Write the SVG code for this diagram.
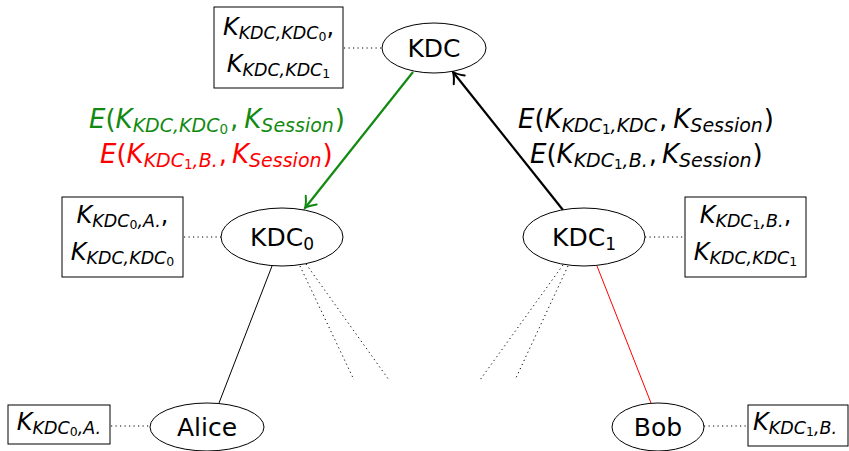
<svg xmlns="http://www.w3.org/2000/svg" width="849" height="451" viewBox="0 0 849 451">
<style>
text { font-family: "DejaVu Sans", sans-serif; fill: #000; }
.i { font-style: italic; }
.lab { font-size: 26px; }
.lab .s { font-size: 19px; }
.lab .ss { font-size: 13.5px; }
.bx { font-size: 24px; }
.bx .s { font-size: 17.5px; }
.bx .ss { font-size: 12.5px; }
.nd { font-size: 25px; }
.nd .ss { font-size: 17px; }
.node ellipse { fill: #fff; stroke: #000; stroke-width: 1; }
.box rect { fill: #fff; stroke: #000; stroke-width: 1; }
.dot { stroke: #000; stroke-width: 1; stroke-dasharray: 1.2 3.3; fill: none; }
</style>
<defs>
<marker id="ahG" markerUnits="userSpaceOnUse" markerWidth="20" markerHeight="20" refX="0" refY="0" viewBox="-12 -10 14 20" orient="auto" overflow="visible">
<path d="M-10,-7 Q-4,-1.5 0,0 Q-4,1.5 -10,7" fill="none" stroke="#128a12" stroke-width="2" stroke-linecap="round"/>
</marker>
<marker id="ahK" markerUnits="userSpaceOnUse" markerWidth="20" markerHeight="20" refX="0" refY="0" viewBox="-12 -10 14 20" orient="auto" overflow="visible">
<path d="M-10,-7 Q-4,-1.5 0,0 Q-4,1.5 -10,7" fill="none" stroke="#000" stroke-width="2" stroke-linecap="round"/>
</marker>
</defs>
<g id="connectors">
<line x1="413" y1="72" x2="305" y2="208" stroke="#128a12" stroke-width="2.2" marker-end="url(#ahG)"/>
<line x1="563" y1="210" x2="453" y2="72" stroke="#000" stroke-width="2.2" marker-end="url(#ahK)"/>
<line x1="272" y1="266" x2="219" y2="403" stroke="#000" stroke-width="1"/>
<line x1="597" y1="266" x2="651" y2="403" stroke="#ff0000" stroke-width="1"/>
<line class="dot" x1="300" y1="266" x2="354" y2="380"/>
<line class="dot" x1="306" y1="264" x2="389" y2="380"/>
<line class="dot" x1="563" y1="265" x2="480" y2="380"/>
<line class="dot" x1="568" y1="266" x2="515" y2="380"/>
<line class="dot" x1="344" y1="48" x2="382" y2="48"/>
<line class="dot" x1="184" y1="237" x2="221" y2="237"/>
<line class="dot" x1="645" y1="237" x2="685" y2="237"/>
<line class="dot" x1="111" y1="426" x2="150" y2="426"/>
<line class="dot" x1="704" y1="426" x2="748" y2="426"/>
</g>
<g id="label-green">
<text x="89" y="128" class="lab" style="fill:#128a12"><tspan class="i">E</tspan>(<tspan class="i">K</tspan><tspan class="i s" dy="4">KDC,KDC</tspan><tspan class="ss" dy="2">0</tspan><tspan dy="-6" dx="2">,</tspan><tspan class="i" dx="6">K</tspan><tspan class="i s" dy="4">Session</tspan><tspan dy="-4" dx="1">)</tspan></text>
</g>
<g id="label-red">
<text x="100" y="163" class="lab" style="fill:#ff0000"><tspan class="i">E</tspan>(<tspan class="i">K</tspan><tspan class="i s" dy="4">KDC</tspan><tspan class="ss" dy="2">1</tspan><tspan class="i s" dy="-2">,B.</tspan><tspan dy="-4" dx="1">,</tspan><tspan class="i" dx="5">K</tspan><tspan class="i s" dy="4">Session</tspan><tspan dy="-4" dx="1">)</tspan></text>
</g>
<g id="label-right">
<text x="518" y="128" class="lab"><tspan class="i">E</tspan>(<tspan class="i">K</tspan><tspan class="i s" dy="4">KDC</tspan><tspan class="ss" dy="2">1</tspan><tspan class="i s" dy="-2">,KDC</tspan><tspan dy="-4" dx="2">,</tspan><tspan class="i" dx="6">K</tspan><tspan class="i s" dy="4">Session</tspan><tspan dy="-4" dx="1">)</tspan></text>
<text x="530" y="163" class="lab"><tspan class="i">E</tspan>(<tspan class="i">K</tspan><tspan class="i s" dy="4">KDC</tspan><tspan class="ss" dy="2">1</tspan><tspan class="i s" dy="-2">,B.</tspan><tspan dy="-4" dx="1">,</tspan><tspan class="i" dx="5">K</tspan><tspan class="i s" dy="4">Session</tspan><tspan dy="-4" dx="1">)</tspan></text>
</g>
<g id="box-kdc" class="box">
<rect x="214" y="7" width="129" height="81"/>
<text x="278.5" y="35" class="bx" text-anchor="middle"><tspan class="i">K</tspan><tspan class="i s" dy="4">KDC,KDC</tspan><tspan class="ss" dy="2">0</tspan><tspan dy="-6">,</tspan></text>
<text x="278.5" y="72" class="bx" text-anchor="middle"><tspan class="i">K</tspan><tspan class="i s" dy="4">KDC,KDC</tspan><tspan class="ss" dy="2">1</tspan></text>
</g>
<g id="box-kdc0" class="box">
<rect x="62" y="197" width="121" height="80"/>
<text x="122.5" y="223" class="bx" text-anchor="middle"><tspan class="i">K</tspan><tspan class="i s" dy="4">KDC</tspan><tspan class="ss" dy="2">0</tspan><tspan class="i s" dy="-2">,A.</tspan><tspan dy="-4">,</tspan></text>
<text x="122.5" y="260" class="bx" text-anchor="middle"><tspan class="i">K</tspan><tspan class="i s" dy="4">KDC,KDC</tspan><tspan class="ss" dy="2">0</tspan></text>
</g>
<g id="box-kdc1" class="box">
<rect x="685" y="197" width="121" height="80"/>
<text x="745.5" y="223" class="bx" text-anchor="middle"><tspan class="i">K</tspan><tspan class="i s" dy="4">KDC</tspan><tspan class="ss" dy="2">1</tspan><tspan class="i s" dy="-2">,B.</tspan><tspan dy="-4">,</tspan></text>
<text x="745.5" y="260" class="bx" text-anchor="middle"><tspan class="i">K</tspan><tspan class="i s" dy="4">KDC,KDC</tspan><tspan class="ss" dy="2">1</tspan></text>
</g>
<g id="box-alice" class="box">
<rect x="8" y="405" width="102" height="39"/>
<text x="59" y="430" class="bx" text-anchor="middle"><tspan class="i">K</tspan><tspan class="i s" dy="4">KDC</tspan><tspan class="ss" dy="2">0</tspan><tspan class="i s" dy="-2">,A.</tspan></text>
</g>
<g id="box-bob" class="box">
<rect x="748" y="405" width="100" height="41"/>
<text x="753" y="430" class="bx"><tspan class="i">K</tspan><tspan class="i s" dy="4">KDC</tspan><tspan class="ss" dy="2">1</tspan><tspan class="i s" dy="-2">,B.</tspan></text>
</g>
<g id="node-kdc" class="node">
<ellipse cx="434" cy="48" rx="52" ry="25"/>
<text x="434" y="57" class="nd" text-anchor="middle">KDC</text>
</g>
<g id="node-kdc0" class="node">
<ellipse cx="282" cy="237" rx="61" ry="29"/>
<text x="282" y="246" class="nd" text-anchor="middle">KDC<tspan class="ss" dy="4">0</tspan></text>
</g>
<g id="node-kdc1" class="node">
<ellipse cx="584" cy="237" rx="61" ry="29"/>
<text x="584" y="246" class="nd" text-anchor="middle">KDC<tspan class="ss" dy="4">1</tspan></text>
</g>
<g id="node-alice" class="node">
<ellipse cx="207" cy="427" rx="57" ry="24"/>
<text x="207" y="436" class="nd" text-anchor="middle">Alice</text>
</g>
<g id="node-bob" class="node">
<ellipse cx="658" cy="427" rx="46" ry="24"/>
<text x="658" y="436" class="nd" text-anchor="middle">Bob</text>
</g>
</svg>
